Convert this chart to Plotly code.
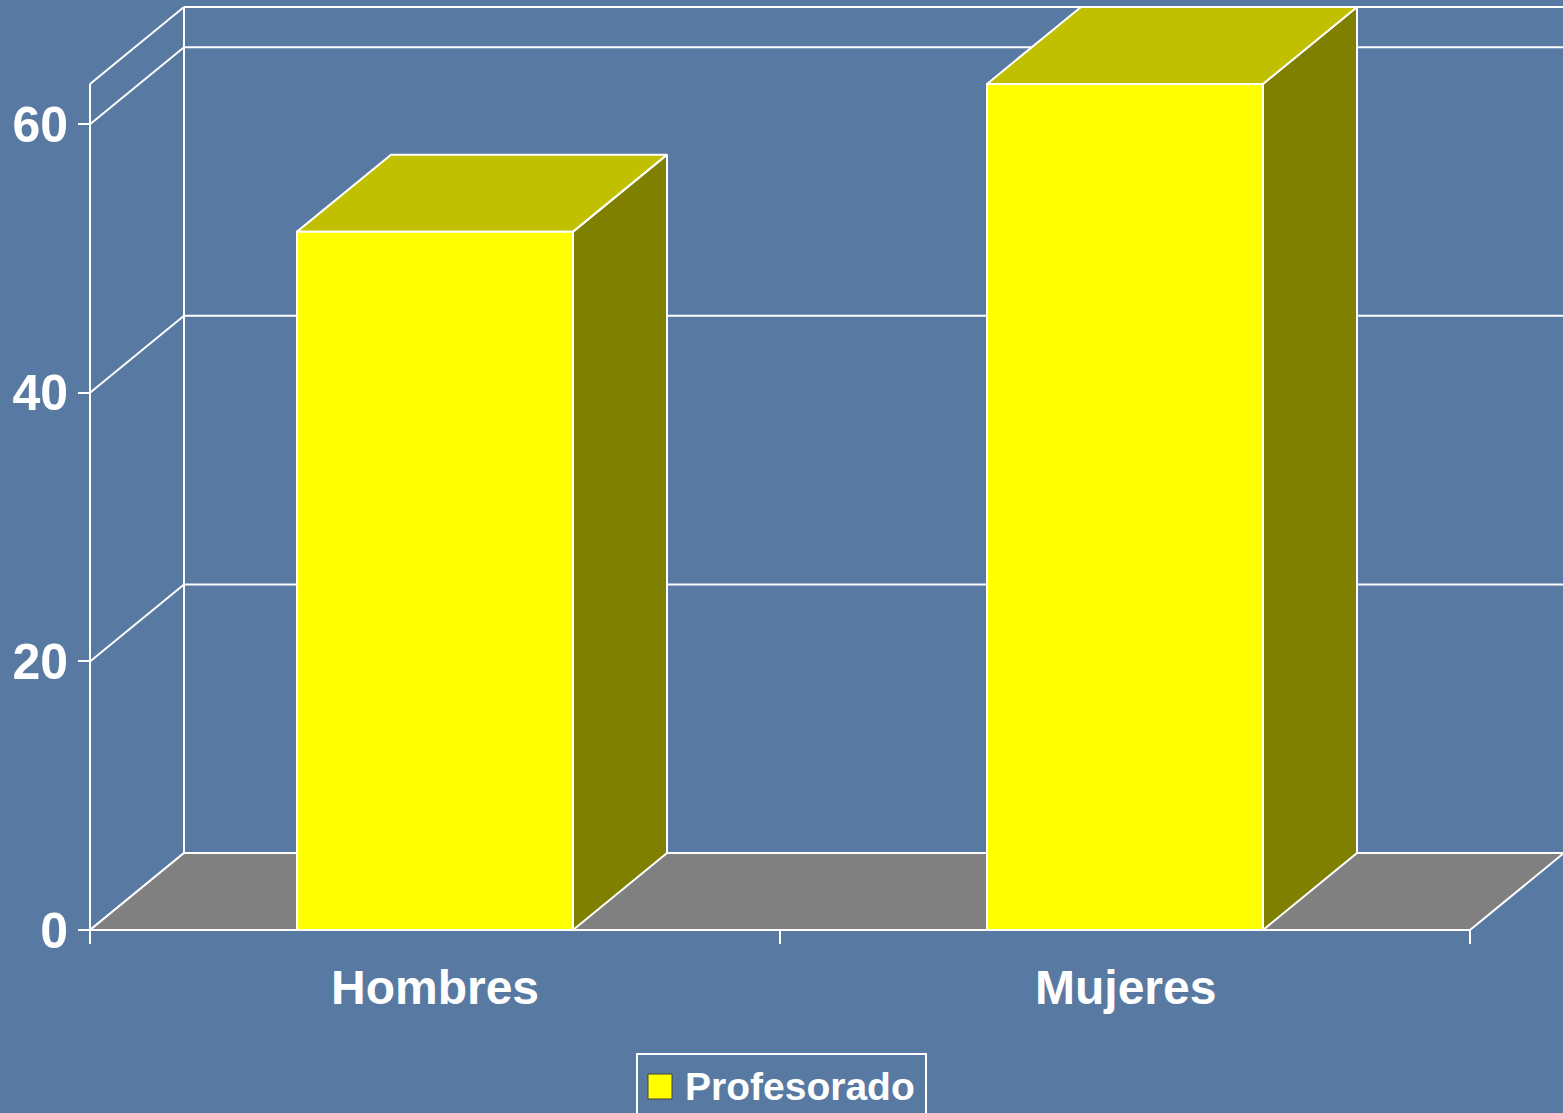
import plotly.graph_objects as go

# ---- data ----
categories = ["Hombres", "Mujeres"]
values = [52, 63]
series_name = "Profesorado"
y_ticks = [0, 20, 40, 60]
axis_max = 63

# ---- style / geometry ----
BG = "#587AA2"
FRONT = "#FFFF00"
TOP = "#C0C000"
SIDE = "#808000"
FLOOR = "#808080"
WHITE = "#FFFFFF"
FONT = "Liberation Sans"

W, H = 1563, 1113
ML, MR, MT, MB = 60, 0, 0, 159
PW, PH = W - ML - MR, H - MT - MB
PX_X = 690.0        # pixels per category unit
PX_Y = 13.43        # pixels per value unit
X0_PX = 90          # pixel of x=0
Y0_PX = 930         # pixel of y=0
DEPTH_X = 94 / PX_X  # 3D depth offset in data units
DEPTH_Y = 77 / PX_Y
BAR_W = 0.4

xmin = -(X0_PX - ML) / PX_X
xmax = xmin + PW / PX_X
ymin = -(MT + PH - Y0_PX) / PX_Y
ymax = ymin + PH / PX_Y

n = len(categories)
fig = go.Figure()


def line(xs, ys, width=2, color=WHITE):
    fig.add_trace(go.Scatter(x=xs, y=ys, mode="lines",
                             line=dict(color=color, width=width),
                             hoverinfo="skip", showlegend=False))


def poly(xs, ys, fill):
    fig.add_trace(go.Scatter(x=xs + [xs[0]], y=ys + [ys[0]], mode="lines",
                             fill="toself", fillcolor=fill,
                             line=dict(color=WHITE, width=2),
                             hoverinfo="skip", showlegend=False))


# back wall grid lines
for v in y_ticks + [axis_max]:
    line([DEPTH_X, n + DEPTH_X], [v + DEPTH_Y, v + DEPTH_Y])
# back wall verticals
line([DEPTH_X, DEPTH_X], [DEPTH_Y, axis_max + DEPTH_Y])
line([n + DEPTH_X, n + DEPTH_X], [DEPTH_Y, axis_max + DEPTH_Y], width=1)
# side wall diagonals
for v in y_ticks + [axis_max]:
    line([0, DEPTH_X], [v, v + DEPTH_Y])
# front value axis line
line([0, 0], [0, axis_max])

# floor
poly([0, n, n + DEPTH_X, DEPTH_X], [0, 0, DEPTH_Y, DEPTH_Y], FLOOR)

# bars
for i, v in enumerate(values):
    c = i + 0.5
    x0, x1 = c - BAR_W / 2, c + BAR_W / 2
    poly([x1, x1 + DEPTH_X, x1 + DEPTH_X, x1], [0, DEPTH_Y, v + DEPTH_Y, v], SIDE)
    poly([x0, x1, x1 + DEPTH_X, x0 + DEPTH_X], [v, v, v + DEPTH_Y, v + DEPTH_Y], TOP)
    poly([x0, x1, x1, x0], [0, 0, v, v], FRONT)

px2paper_x = lambda px: (px - ML) / PW
px2paper_y = lambda py: (MT + PH - py) / PH

fig.update_layout(
    width=W, height=H,
    margin=dict(l=ML, r=MR, t=MT, b=MB, pad=0),
    paper_bgcolor=BG, plot_bgcolor="rgba(0,0,0,0)",
    showlegend=False,
    xaxis=dict(range=[xmin, xmax], showgrid=False, zeroline=False, showline=False,
               tickvals=list(range(n + 1)), ticktext=[""] * (n + 1),
               ticks="outside", ticklen=13, tickwidth=2, tickcolor=WHITE,
               anchor="free", position=px2paper_y(Y0_PX), fixedrange=True),
    yaxis=dict(range=[ymin, ymax], showgrid=False, zeroline=False, showline=False,
               tickvals=y_ticks, ticktext=[str(t) for t in y_ticks],
               ticks="outside", ticklen=12, tickwidth=2, tickcolor=WHITE,
               ticklabelstandoff=0,
               tickfont=dict(family=FONT, size=50, color=WHITE, weight="bold"),
               anchor="free", position=px2paper_x(X0_PX), fixedrange=True),
)

# category labels
for i, cat in enumerate(categories):
    fig.add_annotation(x=i + 0.5, xref="x", y=px2paper_y(987), yref="paper",
                       text=cat, showarrow=False, xanchor="center", yanchor="middle",
                       font=dict(family=FONT, size=48, color=WHITE, weight="bold"))

# legend (box, swatch, label)
fig.add_shape(type="rect", xref="paper", yref="paper",
              x0=px2paper_x(637), x1=px2paper_x(926),
              y0=px2paper_y(1130), y1=px2paper_y(1054),
              line=dict(color=WHITE, width=2), fillcolor="rgba(0,0,0,0)")
fig.add_shape(type="rect", xref="paper", yref="paper",
              x0=px2paper_x(648), x1=px2paper_x(672),
              y0=px2paper_y(1099), y1=px2paper_y(1074),
              line=dict(color="#404040", width=1), fillcolor=FRONT)
fig.add_annotation(x=px2paper_x(683), xref="paper", y=px2paper_y(1086), yref="paper",
                   text=series_name, showarrow=False, xanchor="left", yanchor="middle",
                   font=dict(family=FONT, size=39, color=WHITE, weight="bold"))

fig.write_html("out.html", config={"displayModeBar": False},
               post_script="document.body.style.margin='0';document.body.style.overflow='hidden';")
